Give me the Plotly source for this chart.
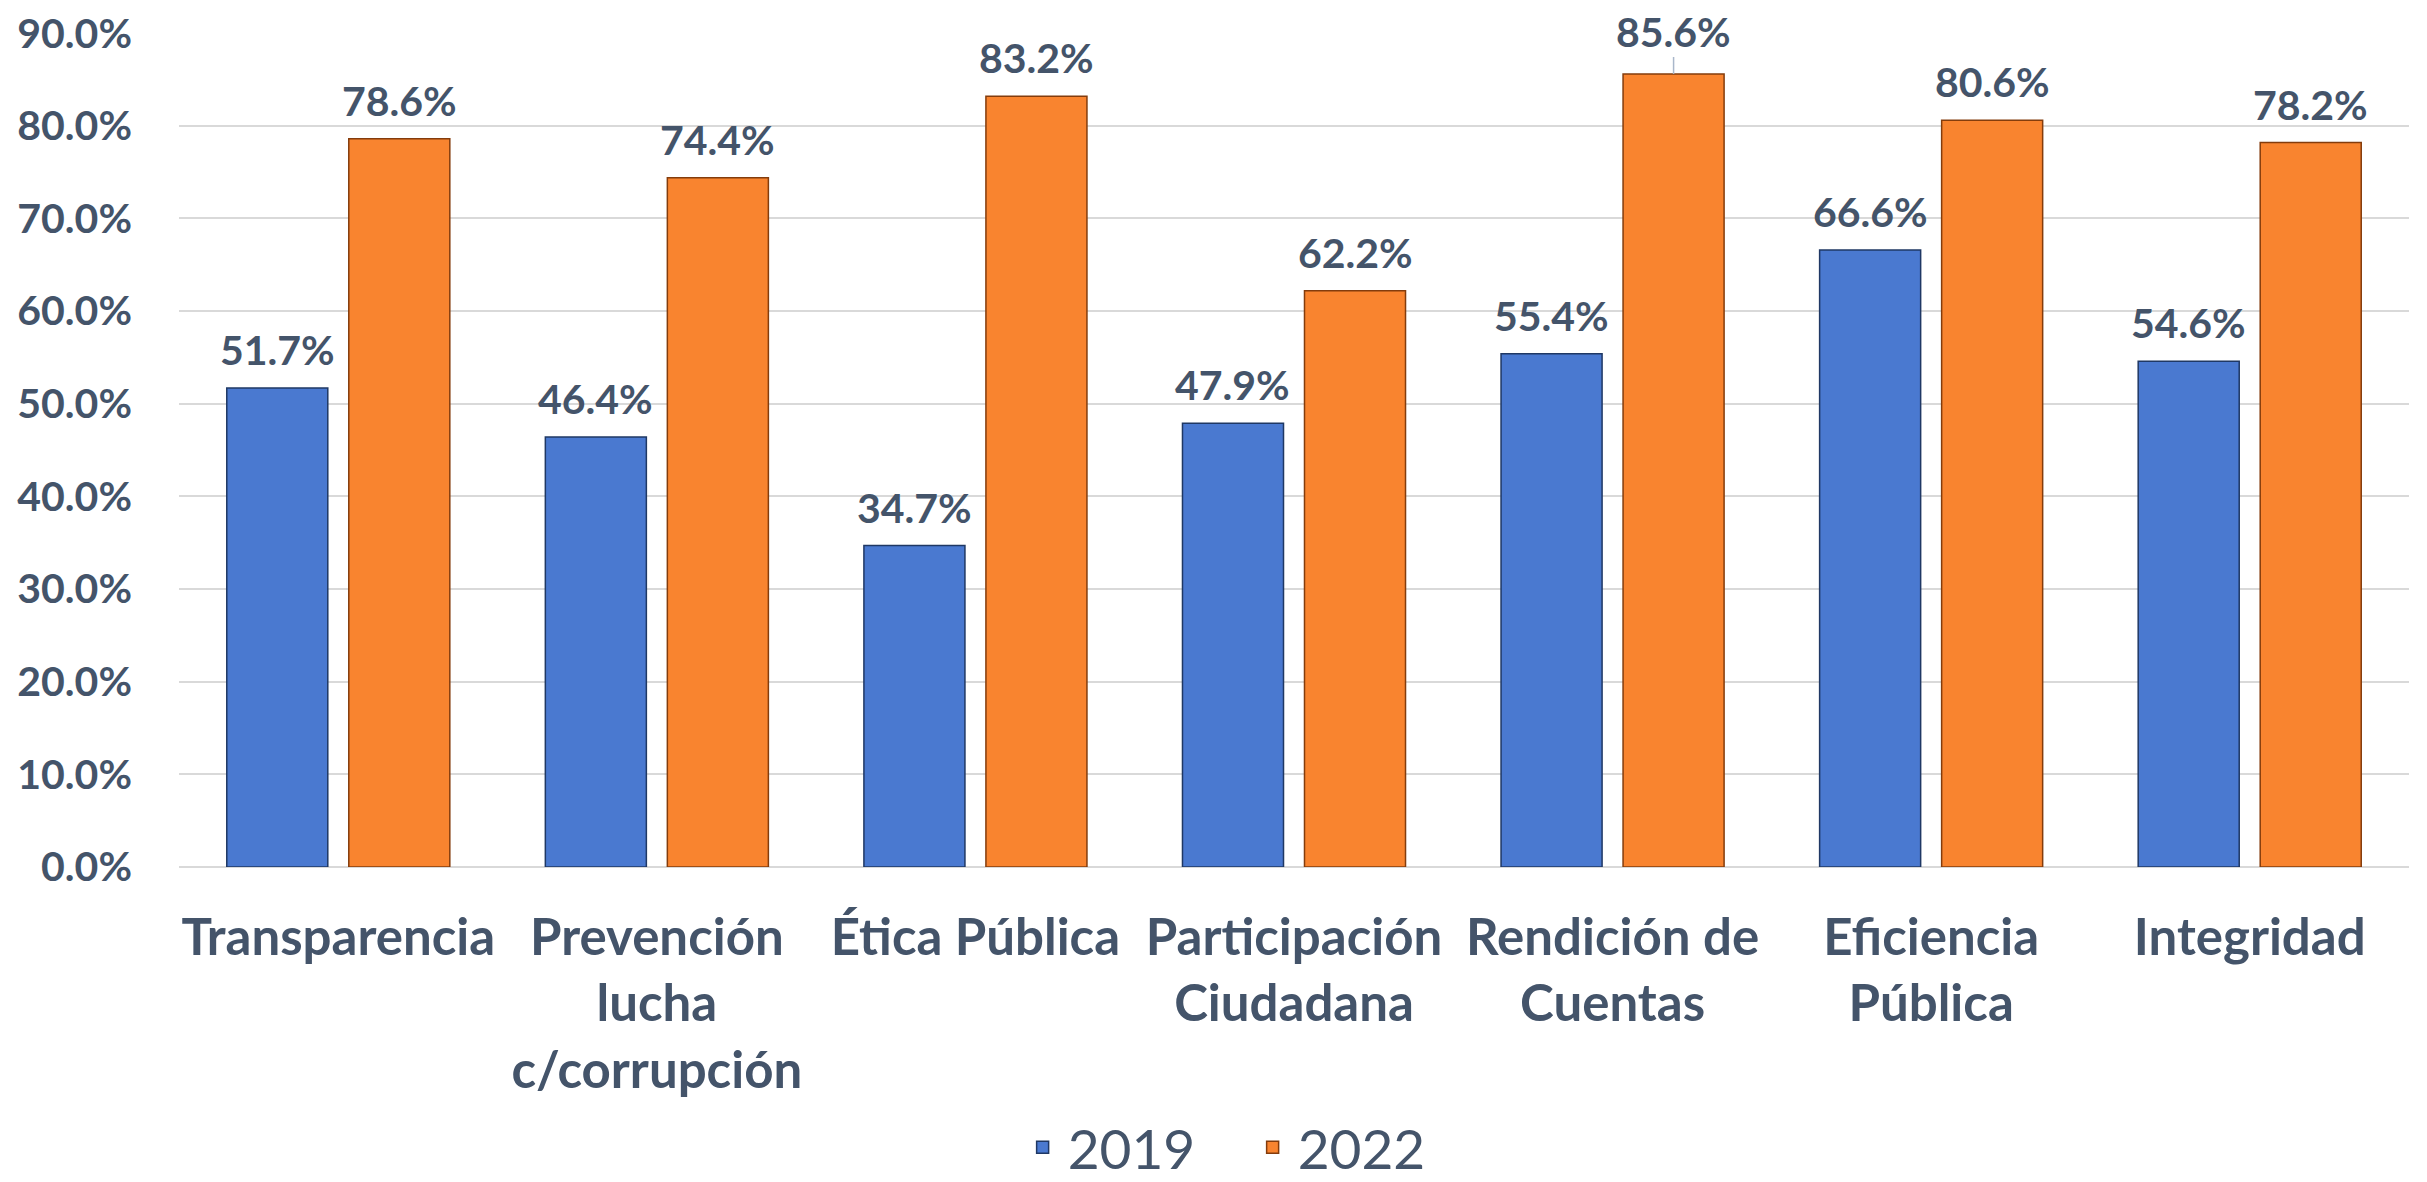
import plotly.graph_objects as go

categories = ["Transparencia", "Prevención<br>lucha<br>c/corrupción", "Ética Pública",
              "Participación<br>Ciudadana", "Rendición de<br>Cuentas", "Eficiencia<br>Pública", "Integridad"]
series_names = ["2019", "2022"]
values_2019 = [51.7, 46.4, 34.7, 47.9, 55.4, 66.6, 54.6]
values_2022 = [78.6, 74.4, 83.2, 62.2, 85.6, 80.6, 78.2]
y_ticks = [0, 10, 20, 30, 40, 50, 60, 70, 80, 90]

TEXT = "#44546A"
FONT = "Lato"
colors = ["#4A79D0", "#F9842F"]
edges = ["#1F3864", "#843C0C"]

BARGAP = 0.234
GROUPGAP = 0.172

fig = go.Figure()
for name, vals, c, e in zip(series_names, [values_2019, values_2022], colors, edges):
    fig.add_trace(go.Bar(
        x=categories, y=vals, name=name,
        marker=dict(color=c, line=dict(color=e, width=1.5)),
        hoverinfo="x+y",
    ))

# data labels
slot = (1 - BARGAP) / 2
for si, vals in enumerate([values_2019, values_2022]):
    off = (si - 0.5) * slot
    for i, v in enumerate(vals):
        moved = (si == 1 and i == 4)
        ann = dict(x=i + off, y=v, xref="x", yref="y",
                   text=f"<b>{v:.1f}%</b>",
                   font=dict(family=FONT, size=41, color=TEXT))
        if moved:
            ann.update(showarrow=True, arrowhead=0, ax=0, ay=-42, borderpad=0,
                       arrowcolor="#A9B7CA", arrowwidth=1.5, standoff=0)
        else:
            ann.update(showarrow=False, yanchor="bottom", yshift=12)
        fig.add_annotation(**ann)

fig.update_layout(
    width=2427, height=1182,
    paper_bgcolor="white", plot_bgcolor="white",
    margin=dict(l=171, r=26, t=25, b=323),
    barmode="group", bargap=BARGAP, bargroupgap=GROUPGAP,
    font=dict(family=FONT, color=TEXT),
    showlegend=True,
    legend=dict(orientation="h", xref="container", yref="container",
                x=0.416, xanchor="left", y=0.036, yanchor="middle",
                font=dict(family=FONT, size=55, color=TEXT),
                itemwidth=40, entrywidth=175, traceorder="normal"),
)
fig.update_xaxes(
    type="category", automargin=False,
    tickfont=dict(family=FONT, size=51, color=TEXT, weight="bold"),
    showline=False, ticks="", ticklabelstandoff=36,
)
fig.update_yaxes(
    range=[0, 90.02], tickvals=y_ticks, automargin=False,
    ticktext=[f"{t:.1f}%" for t in y_ticks],
    tickfont=dict(family=FONT, size=41, color=TEXT, weight="bold"),
    ticklabeloverflow="allow",
    showgrid=True, gridcolor="#D9D9D9", gridwidth=2,
    zeroline=True, zerolinecolor="#D9D9D9", zerolinewidth=2,
    ticks="", ticklabelstandoff=46,
)

fig.write_html("out.html")
